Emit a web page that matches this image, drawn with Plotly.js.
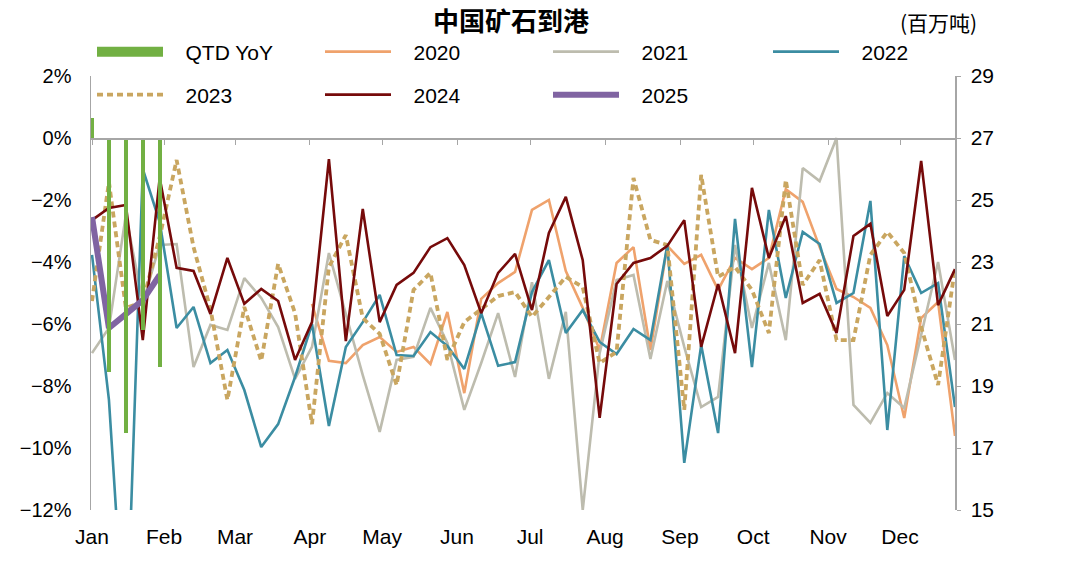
<!DOCTYPE html>
<html>
<head>
<meta charset="utf-8">
<script src="https://cdn.plot.ly/plotly-3.0.1.min.js"></script>
<style>html,body{margin:0;padding:0;background:#fff;}#chart{width:1080px;height:566px;}</style>
</head>
<body>
<div id="chart"></div>
<script>
// Week index (1..52) used as the category position
const weeks = [1,2,3,4,5,6,7,8,9,10,11,12,13,14,15,16,17,18,19,20,21,22,23,24,25,26,27,28,29,30,31,32,33,34,35,36,37,38,39,40,41,42,43,44,45,46,47,48,49,50,51,52];
const monthLabels = ['Jan','Feb','Mar','Apr','May','Jun','Jul','Aug','Sep','Oct','Nov','Dec'];
const monthPos = [1, 5.26, 9.45, 13.88, 18.14, 22.57, 26.89, 31.32, 35.75, 40.07, 44.5, 48.75];

// QTD YoY (%), left axis
const qtdWeeks = [1,2,3,4,5];
const qtdYoY = [0.65, -7.55, -9.5, -6.2, -7.4];

// Weekly arrivals (million tonnes), right axis
const y2020 = [null,null,null,null,null,null,null,null,null,null,null,null,null,
  21.65,19.81,19.74,20.32,20.58,20.10,20.26,19.71,21.39,18.77,21.81,22.32,22.68,24.68,25.00,22.71,21.52,20.16,22.97,23.48,20.16,23.52,22.94,23.23,22.10,23.13,22.77,23.13,25.35,24.94,23.48,22.13,21.87,21.52,20.32,17.97,21.19,21.71,17.39];
const y2021 = [20.06,20.87,24.52,21.68,23.55,23.58,19.61,20.97,20.81,22.48,21.84,20.90,19.23,20.26,23.29,21.29,19.35,17.52,19.84,19.94,21.52,20.39,18.23,19.74,21.35,19.29,22.35,19.23,21.39,15.00,20.06,22.42,22.58,19.87,22.39,20.26,18.32,18.65,23.55,20.87,22.97,20.48,26.03,25.61,27.00,18.39,17.81,18.77,18.29,20.65,23.00,19.84];
const y2022 = [23.23,18.55,10.06,26.00,24.29,20.87,21.55,19.74,20.16,18.87,17.03,17.77,19.29,21.00,17.71,20.26,21.06,21.94,20.00,19.97,20.74,20.29,19.55,21.35,19.65,19.77,22.03,23.06,20.71,21.45,20.42,20.03,20.84,20.48,23.55,16.52,20.32,17.48,24.39,19.61,24.68,21.84,23.97,23.58,21.68,22.00,24.97,17.58,23.19,22.00,22.32,18.32];
const y2023 = [21.74,25.58,21.52,21.71,23.81,26.29,23.48,21.48,18.55,21.55,19.81,22.94,21.35,17.77,22.84,23.87,21.19,20.68,19.03,22.10,22.65,19.84,21.06,21.48,21.90,22.03,21.23,21.87,22.52,22.19,19.74,20.10,25.71,23.71,23.55,18.23,25.81,22.52,22.84,22.10,20.71,25.65,22.26,23.06,20.48,20.48,23.23,23.97,23.29,20.90,19.03,22.81];
const y2024 = [24.35,24.74,24.84,20.48,25.71,22.81,22.71,21.32,23.13,21.65,22.13,21.74,19.84,21.06,26.32,20.45,24.71,21.06,22.26,22.65,23.48,23.77,22.90,21.35,22.65,23.26,21.45,23.94,25.10,23.06,17.97,22.29,22.97,23.13,23.52,24.35,20.26,22.29,20.06,25.39,23.13,24.48,21.68,21.97,20.71,23.84,24.23,21.26,22.10,26.26,21.61,22.77];
const y2025 = [24.45,20.87,21.32,21.77,22.58];

const FONT = 'Liberation Sans, Arial, sans-serif';
const AXIS = '#A6A6A6';
const PAD = '\u00a0\u00a0\u00a0';

const traces = [
  {type:'bar', x: qtdWeeks, y: qtdYoY, xaxis:'x2', yaxis:'y', width:0.25,
   marker:{color:'#72B043'}, showlegend:false, name:'QTD YoY', hoverinfo:'skip'},
  {type:'scatter', mode:'lines', x:[null], y:[null], xaxis:'x', yaxis:'y2', name: PAD + 'QTD YoY',
   line:{color:'#72B043', width:14}, legend:'legend'},
  {type:'scatter', mode:'lines', x: weeks, y: y2020, xaxis:'x', yaxis:'y2', name: PAD + '2020',
   line:{color:'#EFA26C', width:2.6}, legend:'legend', connectgaps:false},
  {type:'scatter', mode:'lines', x: weeks, y: y2021, xaxis:'x', yaxis:'y2', name: PAD + '2021',
   line:{color:'#BDBCAE', width:2.6}, legend:'legend'},
  {type:'scatter', mode:'lines', x: weeks, y: y2022, xaxis:'x', yaxis:'y2', name: PAD + '2022',
   line:{color:'#3B8DA2', width:2.6}, legend:'legend3'},
  {type:'scatter', mode:'lines', x: weeks, y: y2023, xaxis:'x', yaxis:'y2', name: PAD + '2023',
   line:{color:'#C9A660', width:3.8, dash:'6px,4px'}, legend:'legend2'},
  {type:'scatter', mode:'lines', x: weeks, y: y2024, xaxis:'x', yaxis:'y2', name: PAD + '2024',
   line:{color:'#760A0A', width:2.6}, legend:'legend2'},
  {type:'scatter', mode:'lines', x: weeks.slice(0, y2025.length), y: y2025, xaxis:'x', yaxis:'y2', name: PAD + '2025',
   line:{color:'#8064A2', width:6}, legend:'legend2'}
];

const legendCommon = {
  orientation:'h', xref:'container', yref:'container', xanchor:'left', yanchor:'middle',
  x: 92/1080, font:{family:FONT, size:21, color:'#000'}, bgcolor:'rgba(0,0,0,0)',
  itemwidth:66, entrywidth:147, entrywidthmode:'pixels', traceorder:'normal'
};

const layout = {
  width:1080, height:566,
  margin:{l:91, r:125, t:76, b:56, autoexpand:false},
  paper_bgcolor:'#fff', plot_bgcolor:'rgba(0,0,0,0)',
  font:{family:FONT, size:21, color:'#000'},
  title:{text:'<b>中国矿石到港</b>', x:511/1080, xanchor:'center', y:1-22/566, yanchor:'middle',
         xref:'container', yref:'container',
         font:{family:'Noto Sans CJK SC, sans-serif', size:26, color:'#000'}},
  bargap:0,
  xaxis:{range:[0.94, 52], tickvals: monthPos, ticktext: monthLabels, showline:false,
         ticks:'', showgrid:false, zeroline:false, ticklabelstandoff:12,
         tickfont:{family:FONT, size:21}, fixedrange:true},
  xaxis2:{overlaying:'x', matches:'x', anchor:'free', position:(510-138)/434, side:'top',
          tickvals: monthPos, showticklabels:false, ticks:'inside', ticklen:5, tickcolor:AXIS,
          showline:true, linecolor:AXIS, linewidth:1.5, showgrid:false, zeroline:false},
  yaxis:{range:[-12, 2], dtick:2, tick0:0, ticksuffix:'%', showline:true, linecolor:AXIS, linewidth:1.5,
         showgrid:false, zeroline:false, ticks:'', ticklabelstandoff:14, tickfont:{family:FONT, size:20}},
  yaxis2:{range:[15, 29], dtick:2, tick0:15, overlaying:'y', side:'right', showline:true,
          linecolor:AXIS, linewidth:1.5, ticks:'outside', ticklen:4, tickcolor:AXIS,
          showgrid:false, zeroline:false, ticklabelstandoff:6, tickfont:{family:FONT, size:21}},
  legend: Object.assign({}, legendCommon, {y: 1-52/566}),
  legend3: Object.assign({}, legendCommon, {x: 768/1080, y: 1-52/566}),
  legend2: Object.assign({}, legendCommon, {y: 1-95/566}),
  annotations:[{text:'(百万吨)', xref:'paper', yref:'paper', x:(938-91)/864, y:(510-22)/434,
                xanchor:'center', yanchor:'middle', showarrow:false,
                font:{family:'Noto Sans CJK SC, sans-serif', size:21, color:'#000'}}],
  showlegend:true
};

Plotly.newPlot('chart', traces, layout, {staticPlot:true, displayModeBar:false});
</script>
</body>
</html>
